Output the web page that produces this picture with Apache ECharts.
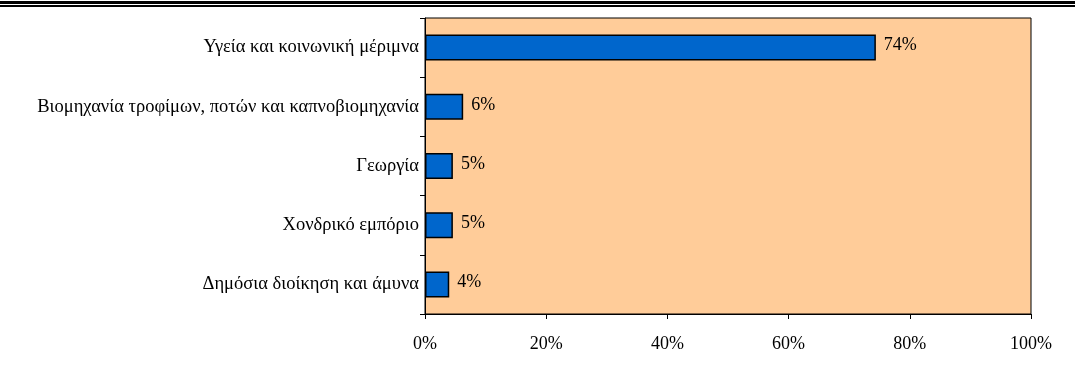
<!DOCTYPE html>
<html>
<head>
<meta charset="utf-8">
<script src="https://cdn.jsdelivr.net/npm/echarts@6/dist/echarts.min.js"></script>
<style>
html,body{margin:0;padding:0;background:#fff;}
#chart{width:1075px;height:372px;}
</style>
</head>
<body>
<div id="chart"></div>
<script>
const categories = [
  'Υγεία και κοινωνική μέριμνα',
  'Βιομηχανία τροφίμων, ποτών και καπνοβιομηχανία',
  'Γεωργία',
  'Χονδρικό εμπόριο',
  'Δημόσια διοίκηση και άμυνα'
];
const values = [74.4, 6.3, 4.6, 4.6, 4.0];
const valueLabels = ['74%', '6%', '5%', '5%', '4%'];
const xTicks = [0, 20, 40, 60, 80, 100];

const font = '"Liberation Serif", "Times New Roman", serif';
const chart = echarts.init(document.getElementById('chart'));
chart.setOption({
  animation: false,
  grid: {
    left: 425, right: 44, top: 18, bottom: 58,
    show: true, backgroundColor: '#FFCC99', borderColor: '#000', borderWidth: 1
  },
  graphic: [
    {type: 'rect', shape: {x: 0, y: 1, width: 1075, height: 3}, style: {fill: '#000'}},
    {type: 'rect', shape: {x: 0, y: 5, width: 1075, height: 2}, style: {fill: '#000'}}
  ],
  xAxis: {
    type: 'value', min: xTicks[0], max: xTicks[xTicks.length - 1], interval: 20,
    axisLine: {show: true, lineStyle: {color: '#000', width: 1}},
    axisTick: {show: true, length: 5, lineStyle: {color: '#000'}},
    splitLine: {show: false},
    axisLabel: {formatter: '{value}%', color: '#000', fontFamily: font, fontSize: 18, margin: 21}
  },
  yAxis: {
    type: 'category', data: categories, inverse: true,
    axisLine: {show: true, lineStyle: {color: '#000', width: 1}},
    axisTick: {show: true, length: 5, lineStyle: {color: '#000'}},
    axisLabel: {color: '#000', fontFamily: font, fontSize: 18.5, margin: 6}
  },
  series: [{
    type: 'bar',
    data: values,
    barWidth: 26,
    itemStyle: {color: '#0066CC', borderColor: '#000', borderWidth: 1.5},
    label: {
      show: true, position: 'right', distance: 8, offset: [0, -2],
      color: '#000', fontFamily: font, fontSize: 18,
      formatter: p => valueLabels[p.dataIndex]
    }
  }]
});
</script>
</body>
</html>
